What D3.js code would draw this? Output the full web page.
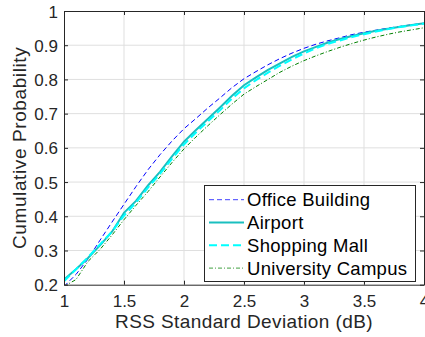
<!DOCTYPE html>
<html>
<head>
<meta charset="utf-8">
<script src="https://cdn.jsdelivr.net/npm/d3@7/dist/d3.min.js"></script>
<style>
  html, body { margin: 0; padding: 0; background: #fff; }
  svg { display: block; }
  text { font-family: "Liberation Sans", Arial, Helvetica, sans-serif; fill: #262626; }
</style>
</head>
<body>
<svg id="chart" width="425" height="337"></svg>
<script>
// ---- data ----
const xValues = [1.0,1.1,1.2,1.3,1.4,1.5,1.6,1.7,1.8,1.9,2.0,2.1,2.2,2.3,2.4,2.5,2.6,2.7,2.8,2.9,3.0,3.1,3.2,3.3,3.4,3.5,3.6,3.7,3.8,3.9,4.0];
const officeBuilding = [0.195,0.230,0.275,0.330,0.383,0.435,0.487,0.536,0.580,0.620,0.656,0.686,0.717,0.746,0.776,0.802,0.823,0.843,0.861,0.877,0.891,0.903,0.913,0.922,0.931,0.938,0.944,0.950,0.955,0.960,0.964];
const airport = [0.215,0.245,0.278,0.315,0.355,0.410,0.445,0.490,0.530,0.575,0.618,0.652,0.685,0.718,0.752,0.783,0.806,0.828,0.847,0.866,0.882,0.895,0.908,0.918,0.927,0.935,0.942,0.948,0.954,0.959,0.964];
const shoppingMall = [0.210,0.245,0.280,0.318,0.355,0.402,0.440,0.484,0.524,0.568,0.610,0.645,0.678,0.710,0.744,0.774,0.798,0.820,0.840,0.859,0.876,0.891,0.904,0.914,0.924,0.932,0.940,0.947,0.953,0.958,0.963];
const universityCampus = [0.195,0.215,0.268,0.303,0.345,0.390,0.432,0.472,0.515,0.557,0.597,0.632,0.665,0.697,0.728,0.757,0.779,0.800,0.821,0.839,0.855,0.869,0.882,0.894,0.905,0.915,0.924,0.932,0.939,0.945,0.951];
const seriesNames = ["Office Building","Airport","Shopping Mall","University Campus"];
const xTicks = [1,1.5,2,2.5,3,3.5,4];
const xTickLabels = ["1","1.5","2","2.5","3","3.5","4"];
const yTicks = [0.2,0.3,0.4,0.5,0.6,0.7,0.8,0.9,1];
const yTickLabels = ["0.2","0.3","0.4","0.5","0.6","0.7","0.8","0.9","1"];
const xLabel = "RSS Standard Deviation (dB)";
const yLabel = "Cumulative Probability";

// ---- styles ----
const styles = [
  {color:"#0000ff", width:1, dash:"5,3"},
  {color:"#1abfbf", width:2, dash:null},
  {color:"#00ffff", width:2, dash:"8,4"},
  {color:"#008000", width:1, dash:"4,2,1,2"}
];
const legendColors = ["#4040ff","#1abfbf","#00ffff","#40a040"];

const svg = d3.select("#chart");
const L = 64, R = 424, T = 11, B = 284.7;
const x = d3.scaleLinear().domain([1,4]).range([L,R]);
const y = d3.scaleLinear().domain([0.2,1]).range([B,T]);

// grid
const grid = svg.append("g");
grid.selectAll("line.gx").data(xTicks.slice(1,-1)).enter().append("line")
  .attr("x1",d=>x(d)).attr("x2",d=>x(d)).attr("y1",T).attr("y2",B)
  .attr("stroke","#dfdfdf").attr("stroke-width",1);
grid.selectAll("line.gy").data(yTicks.slice(1,-1)).enter().append("line")
  .attr("x1",L).attr("x2",R).attr("y1",d=>y(d)).attr("y2",d=>y(d))
  .attr("stroke","#dfdfdf").attr("stroke-width",1);

// lines
const allSeries = [officeBuilding, airport, shoppingMall, universityCampus];
const lineGen = d3.line().x(d=>x(d[0])).y(d=>y(d[1]));
svg.append("clipPath").attr("id","plotclip").append("rect")
  .attr("x",L).attr("y",T).attr("width",R-L).attr("height",B-T);
allSeries.forEach((vals,i)=>{
  const pts = xValues.map((xv,j)=>[xv, vals[j]]);
  svg.append("path").datum(pts)
    .attr("d", lineGen)
    .attr("fill","none")
    .attr("stroke", styles[i].color)
    .attr("stroke-width", styles[i].width)
    .attr("stroke-dasharray", styles[i].dash)
    .attr("clip-path","url(#plotclip)");
});

// axes
const tickLen = 4;
const xAxisB = d3.axisBottom(x).tickValues(xTicks).tickFormat((d,i)=>xTickLabels[i]).tickSizeInner(-tickLen).tickSizeOuter(0).tickPadding(10);
const xAxisT = d3.axisTop(x).tickValues(xTicks).tickFormat("").tickSizeInner(-tickLen).tickSizeOuter(0);
const yAxisL = d3.axisLeft(y).tickValues(yTicks).tickFormat((d,i)=>yTickLabels[i]).tickSizeInner(-tickLen).tickSizeOuter(0).tickPadding(10);
const yAxisR = d3.axisRight(y).tickValues(yTicks).tickFormat("").tickSizeInner(-tickLen).tickSizeOuter(0);

function styleAxis(g){
  g.select(".domain").attr("stroke","#262626").attr("stroke-width",1);
  g.selectAll(".tick line").attr("stroke","#262626").attr("stroke-width",1);
  g.selectAll(".tick text").attr("fill","#262626").style("font-size","17px")
   .style("font-family",'"Liberation Sans", Arial, Helvetica, sans-serif');
}
svg.append("g").attr("transform",`translate(0,${B})`).call(xAxisB).call(styleAxis)
  .selectAll(".tick text").attr("y",8).attr("dy","0.85em");
svg.append("g").attr("transform",`translate(0,${T})`).call(xAxisT).call(styleAxis);
svg.append("g").attr("transform",`translate(${L},0)`).call(yAxisL).call(styleAxis)
  .selectAll(".tick text").attr("dy","0.36em").attr("x",-6);
svg.append("g").attr("transform",`translate(${R},0)`).call(yAxisR).call(styleAxis);

// axis labels
svg.append("text").attr("x",(L+R)/2).attr("y",328).attr("text-anchor","middle")
  .style("font-size","19px").style("letter-spacing","0.4px").text(xLabel);
svg.append("text").attr("transform",`translate(26,${(T+B)/2}) rotate(-90)`).attr("text-anchor","middle")
  .style("font-size","19px").style("letter-spacing","0.6px").text(yLabel);

// legend
const lg = svg.append("g");
lg.append("rect").attr("x",204.5).attr("y",185.5).attr("width",211).attr("height",96)
  .attr("fill","#fff").attr("stroke","#262626").attr("stroke-width",1);
seriesNames.forEach((name,i)=>{
  const cy = 199.7 + i*22.8;
  lg.append("line").attr("x1",209).attr("x2",244).attr("y1",cy).attr("y2",cy)
    .attr("stroke",legendColors[i]).attr("stroke-width",styles[i].width)
    .attr("stroke-dasharray",styles[i].dash);
  lg.append("text").attr("x",247).attr("y",cy+6.6).style("font-size","18.5px")
    .style("letter-spacing","0.3px").style("fill","#000").text(name);
});
</script>
</body>
</html>
